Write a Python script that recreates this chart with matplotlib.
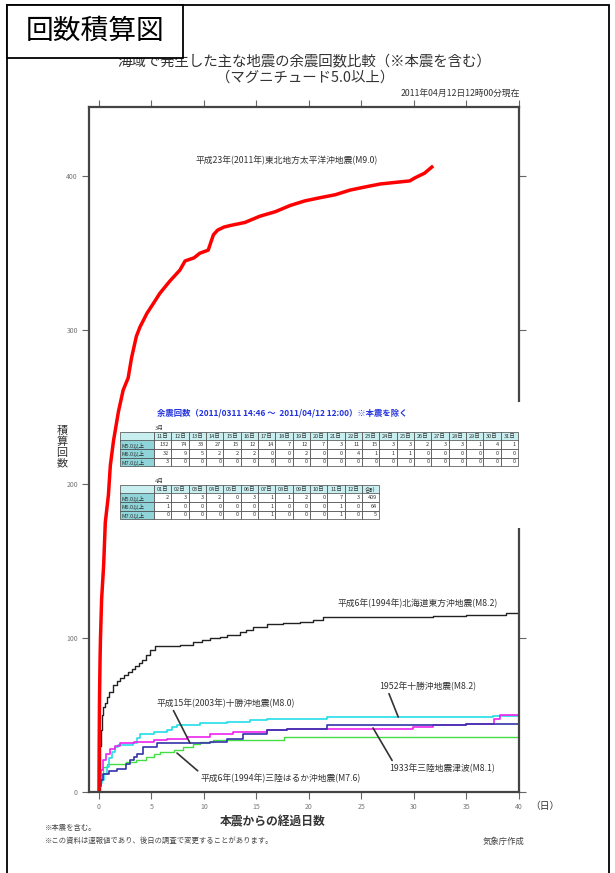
import matplotlib
matplotlib.use("Agg")
import matplotlib.pyplot as plt
from matplotlib.patches import Rectangle

plt.rcParams['font.family'] = ['Noto Sans CJK JP', 'DejaVu Sans']

W, H = 615, 873


def fx(x):
    return x / W


def fy(y):
    return 1 - y / H


# cumulative counts (M5.0+), days since mainshock
# 平成23年(2011年)東北地方太平洋沖地震(M9.0)
m90_day = [0, 0.02, 0.05, 0.1, 0.14, 0.25, 0.45, 0.6, 0.9, 1.08, 1.38, 1.85, 2.3, 2.78,
           3.1, 3.56, 3.9, 4.57, 5.05, 5.8, 6.76, 7.7, 8.2, 9.05, 9.6, 10.4, 10.9, 11.3,
           11.9, 12.5, 13.9, 15.3, 16.8, 18.2, 19.6, 21, 22.5, 23.9, 25.3, 26.8, 28.2,
           29.6, 30.1, 31, 31.7]
m90_n = [1, 30, 60, 85, 99, 125, 148, 175, 193, 212, 228, 247, 261, 269,
         282, 296, 302, 311, 316, 324, 332, 339, 345, 347, 350, 352, 362, 365,
         367, 368, 370, 374, 377, 381, 384, 386, 388, 391, 393, 395, 396,
         397, 399, 402, 406]

# 平成6年(1994年)北海道東方沖地震(M8.2)
hok_day = [0, 0.05, 0.1, 0.15, 0.25, 0.4, 0.57, 0.8, 1.0, 1.37, 1.7, 2.0, 2.4, 2.8,
           3.1, 3.43, 3.8, 4.06, 4.5, 4.86, 5.33, 6.5, 7.7, 8.95, 9.8, 10.6, 11.5,
           12.2, 13.4, 14.0, 14.7, 16, 17.5, 19.1, 20.4, 21.3, 31.8, 35, 38.8, 40]
hok_n = [1, 15, 30, 40, 50, 55, 58, 62, 65, 69.5, 72, 74, 76, 78,
         80, 82, 84, 86, 89, 92, 95, 95, 95.5, 97.6, 99, 100, 101,
         102, 104, 105.5, 107, 109.4, 110, 110.5, 111.7, 113.9, 114.3, 115, 116.4, 117]

# 1952年十勝沖地震(M8.2)
tok52_day = [0, 0.15, 0.3, 0.5, 0.73, 1.0, 1.2, 1.5, 1.84, 3.27, 3.6, 3.9, 5.2, 6.45,
             7.0, 7.4, 9.6, 12.2, 14.4, 16, 21.7, 37.5, 40]
tok52_n = [3, 6, 8, 12, 16, 22, 26, 29, 30.5, 31.6, 35, 38, 39, 40,
           42, 43.5, 44.6, 45.6, 47, 47.7, 48.8, 49.2, 49.4]

# 平成15年(2003年)十勝沖地震(M8.0)
tok03_day = [0, 0.1, 0.2, 0.4, 0.7, 1.05, 1.5, 2.0, 3.3, 5.2, 6.45, 8.35, 10.6, 12.8,
             16, 17.9, 29.9, 31.8, 35, 37.6, 38.2, 40]
tok03_n = [4, 8, 14, 21, 25, 28, 30, 32, 32.5, 33.8, 34.7, 35.8, 38, 39,
           40, 41, 42.4, 43.5, 44.5, 47.7, 50, 50.4]

# 1933年三陸地震津波(M8.1)
san33_day = [0, 0.2, 0.4, 1.0, 1.7, 2.6, 3.0, 3.3, 3.6, 4.2, 5.5, 7.4, 10.6, 12.2,
             13.7, 16, 17.9, 21.7, 28.7, 35, 40]
san33_n = [4, 8, 12, 13.5, 15, 18.5, 21, 23, 25, 29.4, 31.6, 32, 32.5, 34.7,
           38, 40, 41, 43.5, 43.5, 44, 44]

# 平成6年(1994年)三陸はるか沖地震(M7.6)
san94_day = [0, 0.05, 0.1, 0.4, 0.73, 2.6, 3.5, 4.5, 5.2, 5.8, 7.1, 8.0, 9.0, 9.6,
             10.9, 16, 17.6, 40]
san94_n = [5, 9, 12, 16, 18.5, 19.5, 21, 23, 24.5, 26, 27.6, 29.4, 31, 32.5,
           33.8, 33.8, 35.9, 35.9]

# 余震回数 table (2011/03/11 14:46 - 2011/04/12 12:00, mainshock excluded)
mag_labels = ['M5.0以上', 'M6.0以上', 'M7.0以上']
mar_days = ['%02d日' % d for d in range(11, 32)]
mar_m5 = [132, 74, 33, 27, 15, 12, 14, 7, 12, 7, 3, 11, 15, 3, 3, 2, 3, 3, 1, 4, 1]
mar_m6 = [32, 9, 5, 2, 2, 2, 0, 0, 2, 0, 0, 4, 1, 1, 1, 0, 0, 0, 0, 0, 0]
mar_m7 = [3, 0, 0, 0, 0, 0, 0, 0, 0, 0, 0, 0, 0, 0, 0, 0, 0, 0, 0, 0, 0]
apr_days = ['%02d日' % d for d in range(1, 13)]
apr_m5 = [2, 3, 3, 2, 0, 3, 1, 1, 2, 0, 7, 3]
apr_m6 = [1, 0, 0, 0, 0, 0, 1, 0, 0, 0, 1, 0]
apr_m7 = [0, 0, 0, 0, 0, 0, 1, 0, 0, 0, 1, 0]

xticks = [0, 5, 10, 15, 20, 25, 30, 35, 40]
yticks = [0, 100, 200, 300, 400]

fig = plt.figure(figsize=(6.15, 8.73), dpi=100)
ax = fig.add_axes([fx(89), fy(792), 430 / W, 685 / H])

ax.plot(hok_day, hok_n, color='#222222', lw=1.0, drawstyle='steps-post')
ax.plot(san94_day, san94_n, color='#44dd44', lw=1.0, drawstyle='steps-post')
ax.plot(tok52_day, tok52_n, color='#22dde8', lw=1.2, drawstyle='steps-post')
ax.plot(tok03_day, tok03_n, color='#ee22ee', lw=1.2, drawstyle='steps-post')
ax.plot(san33_day, san33_n, color='#3333aa', lw=1.2, drawstyle='steps-post')
ax.plot(m90_day, m90_n, color='#ff0000', lw=2.5)

ax.set_xlim(-0.95, 40)
ax.set_ylim(0, 445)
ax.set_xticks(xticks)
ax.set_yticks(yticks)
ax.tick_params(direction='out', length=5, width=0.8, color='#666666',
               labelsize=5, labelcolor='#777777', top=True, right=True, pad=3)
for s in ax.spines.values():
    s.set_linewidth(1.6)
    s.set_color('#444444')

# labels of the curves
tcol = '#333333'
ax.text(17.9, 410, '平成23年(2011年)東北地方太平洋沖地震(M9.0)', fontsize=6.3,
        color=tcol, ha='center', va='center')
ax.text(30.3, 122.5, '平成6年(1994年)北海道東方沖地震(M8.2)', fontsize=6.3,
        color=tcol, ha='center', va='center')
lead = dict(arrowstyle='-', lw=1.2, color='#333333', shrinkA=0, shrinkB=0)
ax.annotate('1952年十勝沖地震(M8.2)', xy=(28.5, 48.7), xytext=(31.3, 68.8),
            fontsize=6.3, color=tcol, ha='center', va='center',
            arrowprops=dict(lead, relpos=(0.09, 0)))
ax.annotate('平成15年(2003年)十勝沖地震(M8.0)', xy=(8.67, 31.8), xytext=(12.1, 57.8),
            fontsize=6.3, color=tcol, ha='center', va='center',
            arrowprops=dict(lead, relpos=(0.11, 0)))
ax.annotate('1933年三陸地震津波(M8.1)', xy=(26.1, 41.6), xytext=(32.7, 15.6),
            fontsize=6.3, color=tcol, ha='center', va='center',
            arrowprops=dict(lead, relpos=(0.04, 1)))
ax.annotate('平成6年(1994年)三陸はるか沖地震(M7.6)', xy=(7.43, 25.3), xytext=(17.3, 9.1),
            fontsize=6.3, color=tcol, ha='center', va='center',
            arrowprops=dict(lead, relpos=(0.0, 1)))

# white patch of the pasted table (hides the right spine)
fig.add_artist(Rectangle((fx(126), fy(528)), 414 / W, 126 / H, transform=fig.transFigure,
                         facecolor='white', edgecolor='none', zorder=1))


def cell(x, y, w, h, fc):
    fig.add_artist(Rectangle((fx(x), fy(y + h)), w / W, h / H, transform=fig.transFigure,
                             facecolor=fc, edgecolor='#444444', lw=0.5, zorder=2))


def draw_table(x0, y0, heads, rows, month):
    lw_, cw, rh = 34, 17.33, 8.5
    fig.text(fx(x0 + lw_ + 1), fy(y0 - 1), month, fontsize=4.2, color='#444444',
             ha='left', va='bottom', zorder=3)
    cell(x0, y0, lw_, rh, '#c9eef0')
    for j, hd in enumerate(heads):
        x = x0 + lw_ + j * cw
        cell(x, y0, cw, rh, '#c9eef0')
        fig.text(fx(x + cw / 2), fy(y0 + rh / 2), hd, fontsize=4, color='#333333',
                 ha='center', va='center', zorder=3)
    for i, (lab, vals) in enumerate(rows):
        y = y0 + rh * (i + 1)
        cell(x0, y, lw_, rh, '#8fd4d8')
        fig.text(fx(x0 + 2), fy(y + rh / 2), lab, fontsize=4, color='#333333',
                 ha='left', va='center', zorder=3)
        for j, v in enumerate(vals):
            x = x0 + lw_ + j * cw
            cell(x, y, cw, rh, 'white')
            fig.text(fx(x + cw - 2), fy(y + rh / 2), str(v), fontsize=4, color='#333333',
                     ha='right', va='center', zorder=3)


fig.text(fx(157), fy(413), '余震回数（2011/0311 14:46 ～  2011/04/12 12:00）※本震を除く',
         fontsize=6, color='#2233dd', fontweight='bold', ha='left', va='center', zorder=3)
draw_table(120, 432, mar_days, [(mag_labels[0], mar_m5), (mag_labels[1], mar_m6),
                                (mag_labels[2], mar_m7)], '3月')
apr_rows = []
for lab, a, m in [(mag_labels[0], apr_m5, mar_m5), (mag_labels[1], apr_m6, mar_m6),
                  (mag_labels[2], apr_m7, mar_m7)]:
    apr_rows.append((lab, a + [sum(a) + sum(m)]))
draw_table(120, 485, apr_days + ['合計'], apr_rows, '4月')

# titles and notes
fig.text(fx(304), fy(62), '海域で発生した主な地震の余震回数比較（※本震を含む）', fontsize=10.4,
         color='#333333', ha='center', va='center')
fig.text(fx(305), fy(78), '（マグニチュード5.0以上）', fontsize=10.4,
         color='#333333', ha='center', va='center')
fig.text(fx(520), fy(93), '2011年04月12日12時00分現在', fontsize=6.3,
         color='#333333', ha='right', va='center')
fig.text(fx(62), fy(447), '積\n算\n回\n数', fontsize=8, color='#333333',
         ha='center', va='center', linespacing=1.05)
fig.text(fx(273), fy(822), '本震からの経過日数', fontsize=8.5, color='#333333',
         fontweight='bold', ha='center', va='center')
fig.text(fx(545), fy(806), '（日）', fontsize=7, color='#333333', ha='center', va='center')
fig.text(fx(45), fy(828), '※本震を含む。', fontsize=5.3, color='#444444', ha='left', va='center')
fig.text(fx(45), fy(841), '※この資料は速報値であり、後日の調査で変更することがあります。',
         fontsize=5.3, color='#444444', ha='left', va='center')
fig.text(fx(525), fy(841), '気象庁作成', fontsize=6, color='#444444', ha='right', va='center')

# outer frame and header box
fig.add_artist(Rectangle((fx(7), fy(900)), 602 / W, 895 / H, transform=fig.transFigure,
                         facecolor='none', edgecolor='black', lw=1.3, zorder=4))
fig.add_artist(Rectangle((fx(7), fy(58)), 176 / W, 53 / H, transform=fig.transFigure,
                         facecolor='white', edgecolor='black', lw=1.3, zorder=4))
fig.text(fx(95), fy(31), '回数積算図', fontsize=20, color='black', ha='center',
         va='center', zorder=5)

fig.savefig('out.png', dpi=100)
